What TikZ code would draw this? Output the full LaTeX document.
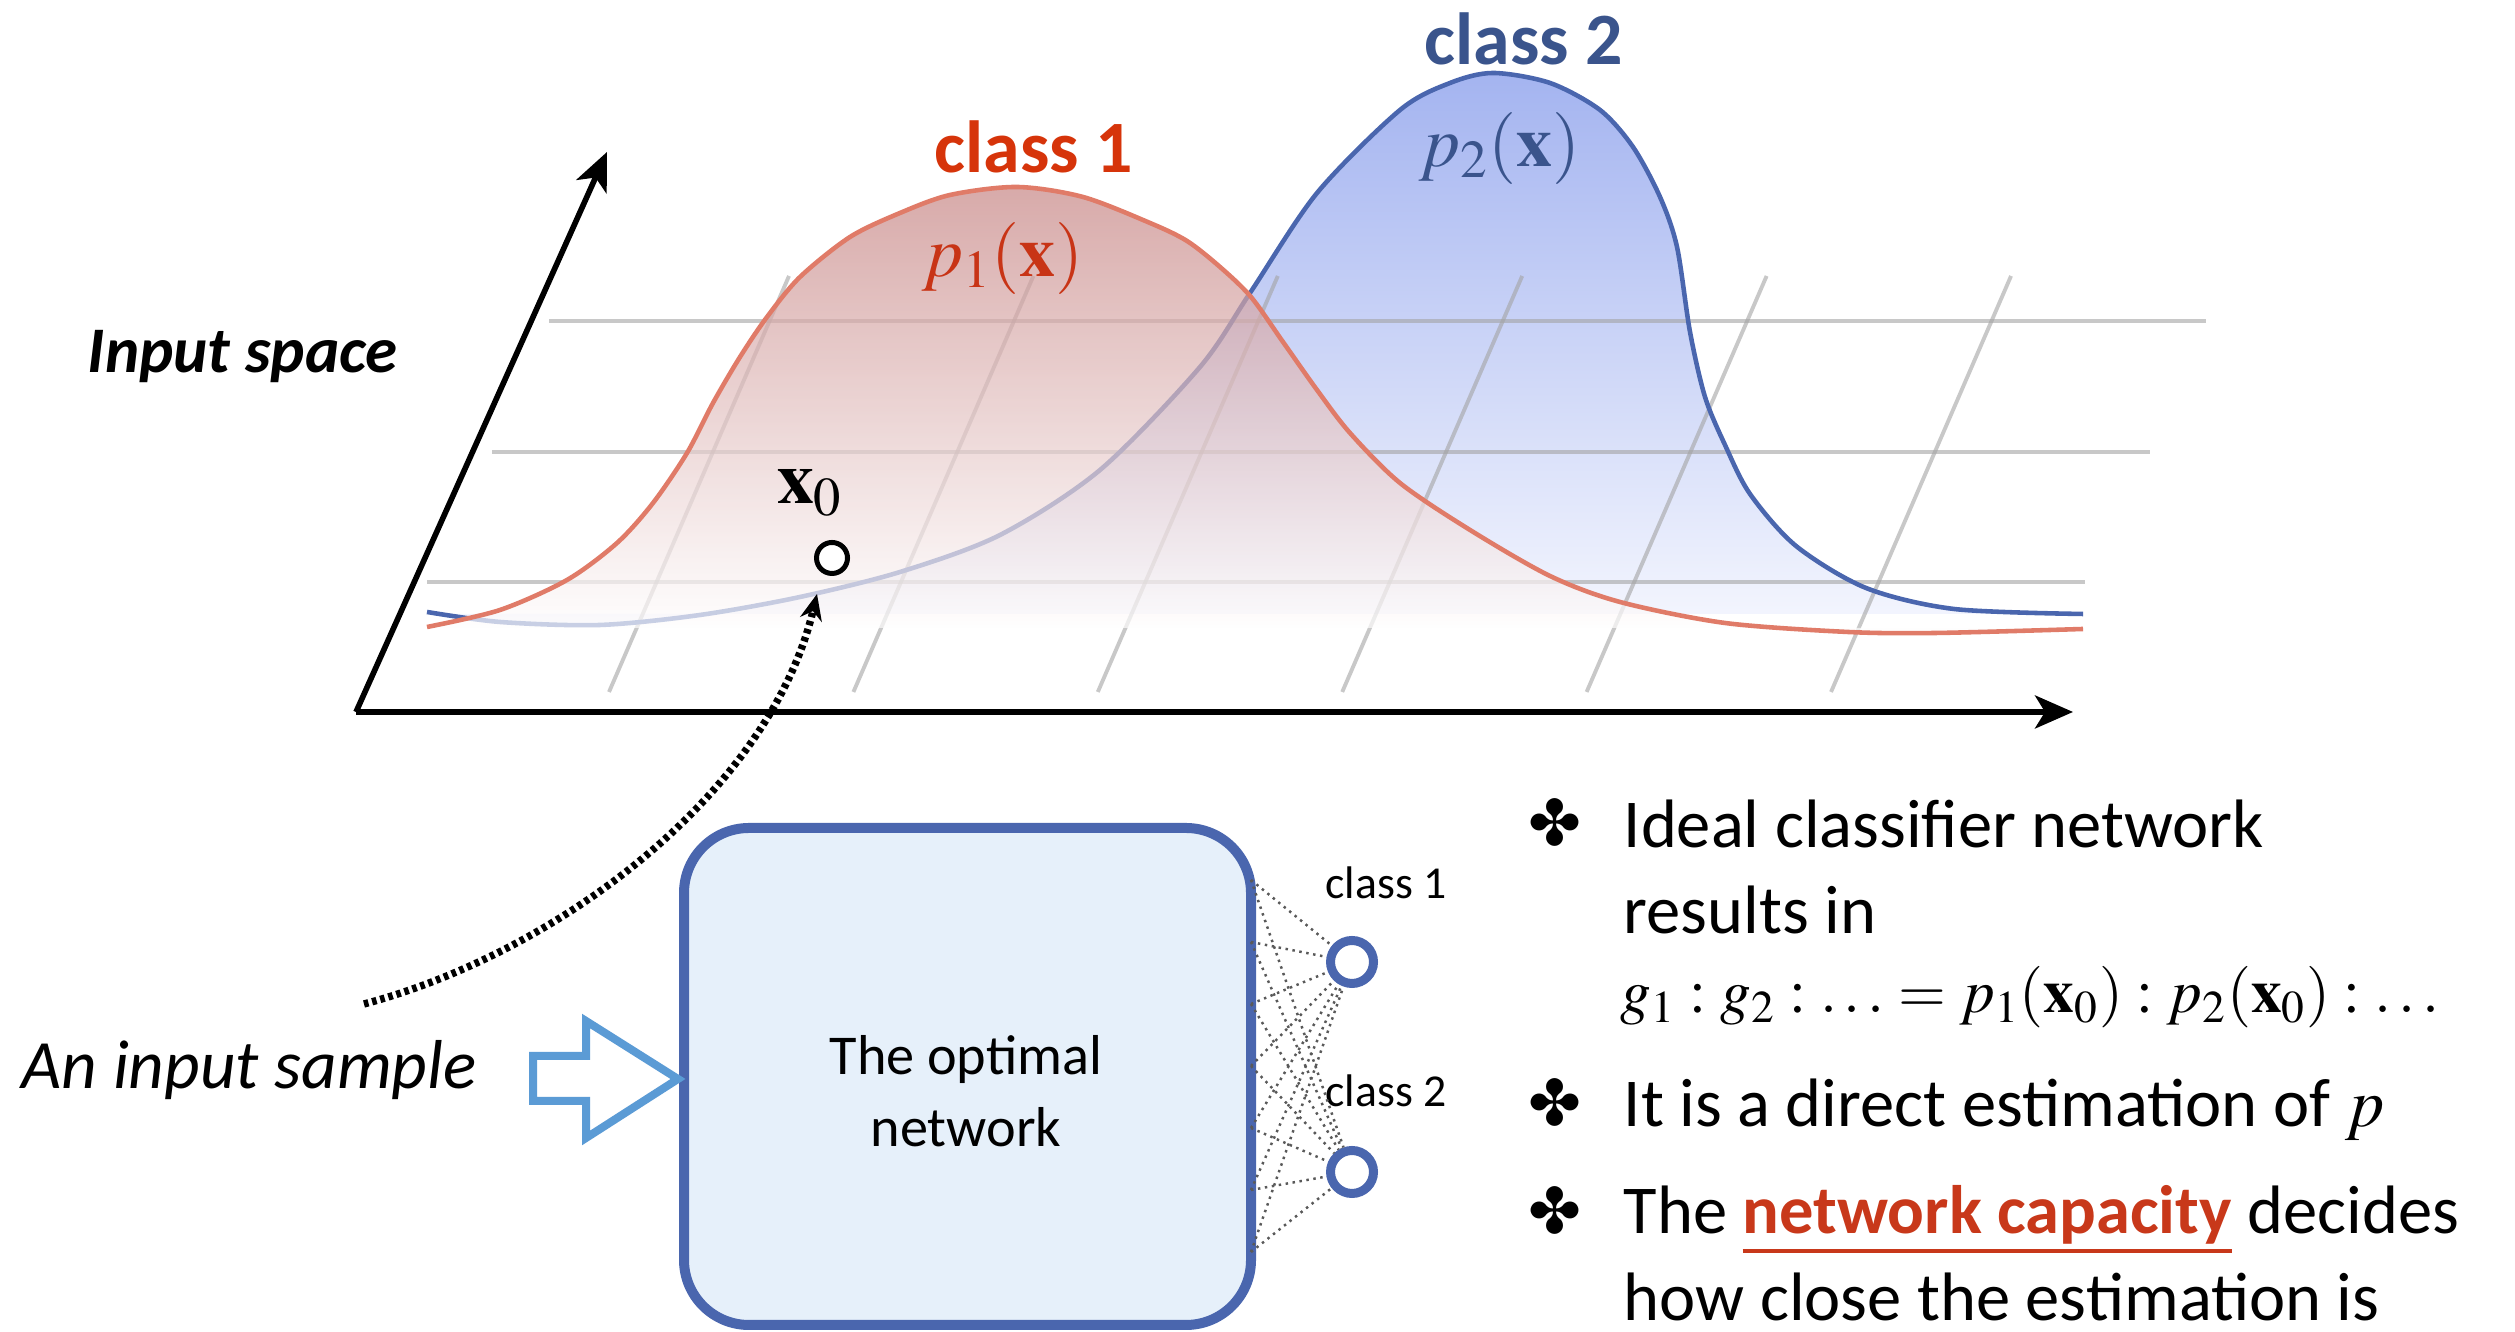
\documentclass[tikz,border=0pt]{standalone}
\usepackage{mathptmx}
\usepackage[no-math]{fontspec}
\setmainfont{Carlito}
\newfontfamily\symfont{DejaVu Sans}
\usetikzlibrary{positioning, arrows.meta, calc}

\definecolor{gridgray}{RGB}{163,163,163}
\definecolor{redline}{RGB}{224,123,104}
\definecolor{blueline}{RGB}{74,102,174}
\definecolor{redtop}{RGB}{199,134,133}
\definecolor{bluetop}{RGB}{164,180,240}
\definecolor{bluebot}{RGB}{244,246,254}
\definecolor{c1red}{RGB}{214,52,10}
\definecolor{p1red}{RGB}{200,52,22}
\definecolor{c2blue}{RGB}{58,84,140}
\definecolor{netfill}{RGB}{230,240,250}
\definecolor{arrowblue}{RGB}{91,155,213}
\definecolor{capred}{RGB}{200,56,26}

\newcommand{\capul}[1]{\leavevmode\setbox0\hbox{#1}\rlap{\color{capred}\rule[-0.19cm]{\wd0}{0.035cm}}\box0\relax}

\begin{document}
\begin{tikzpicture}[
  gridline/.style={draw=gridgray, draw opacity=0.6, line width=1.1pt},
  axis/.style={line width=1.6pt, -{Stealth[length=0.38cm, width=0.33cm, inset=0.1cm]}},
  curveR/.style={draw=redline, line width=1.3pt},
  curveB/.style={draw=blueline, line width=1.3pt},
  classlbl/.style={inner sep=0pt, anchor=base, font=\bfseries\fontsize{21}{21}\selectfont},
  dens/.style={inner sep=0pt, anchor=base, font=\fontsize{20.5}{20.5}\selectfont},
  pt/.style={circle, draw=black, line width=0.05cm, fill=white, minimum size=0.31cm, inner sep=0pt},
  sample/.style={line width=2.1pt, dash pattern=on 1.3pt off 1.1pt, -{Stealth[length=0.26cm, width=0.22cm]}},
  netbox/.style={draw=blueline, fill=netfill, line width=0.1cm, rounded corners=0.65cm,
                 minimum width=5.67cm, minimum height=4.97cm, inner sep=0pt},
  nettxt/.style={inner sep=0pt, anchor=base, font=\fontsize{16}{16}\selectfont},
  inarrow/.style={draw=arrowblue, fill=white, line width=0.08cm, line join=miter},
  outnode/.style={circle, draw=blueline, fill=white, line width=0.09cm, minimum size=0.43cm, inner sep=0pt},
  outlbl/.style={inner sep=0pt, anchor=base, font=\fontsize{13}{13}\selectfont},
  link/.style={draw=black!65, line width=0.7pt, dash pattern=on 0.7pt off 1.3pt},
  bul/.style={inner sep=0pt, font=\symfont\fontsize{18}{18}\selectfont},
  item/.style={inner sep=0pt, anchor=base west, font=\fontsize{19.5}{19.5}\selectfont},
]
\useasboundingbox (0,0) rectangle (25.15,13.32);

% === Densities ===
\shade[top color=bluetop, bottom color=bluebot]
  plot[smooth] coordinates {(4.27,7.20) (5.00,7.10) (6.00,7.07) (7.00,7.17) (8.00,7.35)
    (9.00,7.60) (10.00,7.97) (11.00,8.62) (12.00,9.65) (12.50,10.39) (13.17,11.39) (14.00,12.22)
    (14.50,12.49) (14.93,12.59) (15.50,12.49) (16.00,12.22) (16.33,11.85) (16.60,11.35) (16.77,10.85)
    (16.90,10.00) (17.05,9.35) (17.25,8.87) (17.50,8.38) (17.96,7.86) (18.66,7.44) (19.54,7.23)
    (20.83,7.18)}
  -- (20.83,7.18) -- (4.27,7.18) -- cycle;

% grid of the input space
\foreach \y/\xa/\xb in {10.11/5.49/22.06, 8.80/4.92/21.50, 7.50/4.27/20.85}
  \draw[gridline] (\xa,\y) -- (\xb,\y);
\foreach \i in {0,...,5}
  \draw[gridline] ({6.09+2.444*\i},6.40) -- ({7.89+2.444*\i},10.56);

\draw[curveB]
  plot[smooth] coordinates {(4.27,7.20) (5.00,7.10) (6.00,7.07) (7.00,7.17) (8.00,7.35)
    (9.00,7.60) (10.00,7.97) (11.00,8.62) (12.00,9.65) (12.50,10.39) (13.17,11.39) (14.00,12.22)
    (14.50,12.49) (14.93,12.59) (15.50,12.49) (16.00,12.22) (16.33,11.85) (16.60,11.35) (16.77,10.85)
    (16.90,10.00) (17.05,9.35) (17.25,8.87) (17.50,8.38) (17.96,7.86) (18.66,7.44) (19.54,7.23)
    (20.83,7.18)};

\shade[top color=redtop, bottom color=white, fill opacity=0.7]
  plot[smooth] coordinates {(4.27,7.05) (5.00,7.22) (5.67,7.52) (6.17,7.89) (6.53,8.29) (6.87,8.79)
    (7.13,9.29) (7.40,9.75) (7.67,10.15) (8.00,10.55) (8.50,10.95) (9.00,11.19) (9.50,11.37)
    (10.17,11.45) (10.83,11.35) (11.50,11.09) (11.87,10.91) (12.20,10.65) (12.51,10.35) (12.83,9.90)
    (13.17,9.42) (13.50,8.99) (14.00,8.49) (14.70,8.02) (15.50,7.56) (16.20,7.30) (17.25,7.09)
    (18.48,7.00) (19.36,6.99) (20.83,7.03)}
  -- (20.83,7.04) -- (4.27,7.04) -- cycle;
\draw[curveR]
  plot[smooth] coordinates {(4.27,7.05) (5.00,7.22) (5.67,7.52) (6.17,7.89) (6.53,8.29) (6.87,8.79)
    (7.13,9.29) (7.40,9.75) (7.67,10.15) (8.00,10.55) (8.50,10.95) (9.00,11.19) (9.50,11.37)
    (10.17,11.45) (10.83,11.35) (11.50,11.09) (11.87,10.91) (12.20,10.65) (12.51,10.35) (12.83,9.90)
    (13.17,9.42) (13.50,8.99) (14.00,8.49) (14.70,8.02) (15.50,7.56) (16.20,7.30) (17.25,7.09)
    (18.48,7.00) (19.36,6.99) (20.83,7.03)};

% === Axes ===
\coordinate (O) at (3.56,6.20);
\coordinate (yTip) at (6.07,11.80);
\coordinate (xTip) at (20.73,6.20);
\draw[axis] (O) -- (yTip);
\draw[axis] (O) -- (xTip);

% === Labels ===
\node[classlbl, text=c1red] (c1) at (10.34,11.59) {class 1};
\node[classlbl, text=c2blue] (c2) at (15.24,12.67) {class 2};
\node[dens, text=p1red] (p1) at (10.03,10.55) {$p_1(\mathbf{x})$};
\node[dens, text=c2blue] (p2) at (15.00,11.65) {$p_2(\mathbf{x})$};
\node[inner sep=0pt, anchor=base west, font=\bfseries\itshape\fontsize{18.5}{18.5}\selectfont]
  (ispace) at (0.87,9.59) {Input space};

% sample point
\node[pt] (x0) at (8.32,7.74) {};
\node[dens, font=\fontsize{21}{21}\selectfont] (x0lbl) at (8.10,8.28) {$\mathbf{x}_0$};

% === Network ===
\node[netbox] (net) at (9.675,2.555) {};
\node[nettxt] (t1) at (9.66,2.57) {The optimal};
\node[nettxt] (t2) at (9.66,1.85) {network};

\draw[inarrow] (5.33,2.76) -- (5.86,2.76) -- (5.86,3.11) -- (6.78,2.53)
  -- (5.86,1.94) -- (5.86,2.31) -- (5.33,2.31) -- cycle;
\node[inner sep=0pt, anchor=base west, font=\itshape\fontsize{19.7}{19.7}\selectfont]
  (isample) at (0.21,2.43) {An input sample};

% input sample to x0
\coordinate (smp) at (3.64,3.28);
\coordinate (x0tip) at (8.17,7.38);
\draw[sample] (smp) .. controls (5.6,3.8) and (7.7,5.4) .. (x0tip);

% outputs
\node[outnode] (o1) at (13.52,3.70) {};
\node[outnode] (o2) at (13.52,1.60) {};
\node[outlbl] (l1) at (13.86,4.33) {class 1};
\node[outlbl] (l2) at (13.86,2.25) {class 2};
\foreach \y [count=\i] in {4.52,3.90,3.28,2.66,2.04,1.42,0.80}{
  \coordinate (h\i) at (12.51,\y);
  \draw[link] (h\i) -- (o1);
  \draw[link] (h\i) -- (o2);
}

% === Bullets ===
\node[bul] (b1) at (15.55,5.10) {✤};
\node[bul] (b2) at (15.55,2.30) {✤};
\node[bul] (b3) at (15.55,1.22) {✤};
\node[item] (r1) at (16.23,4.84) {Ideal classifier network};
\node[item] (r2) at (16.23,3.98) {results in};
\node[item, font=\fontsize{17.5}{17.5}\selectfont] (r3) at (16.20,3.19)
  {$g_1 : g_2 : \ldots = p_1(\mathbf{x}_0) : p_2(\mathbf{x}_0) : \ldots$};
\node[item] (r4) at (16.23,2.05) {It is a direct estimation of $p$};
\node[item] (r5) at (16.23,0.98) {The \capul{\textcolor{capred}{\bfseries network capacity}} decides};
\node[item] (r6) at (16.23,0.11) {how close the estimation is};

\end{tikzpicture}
\end{document}
